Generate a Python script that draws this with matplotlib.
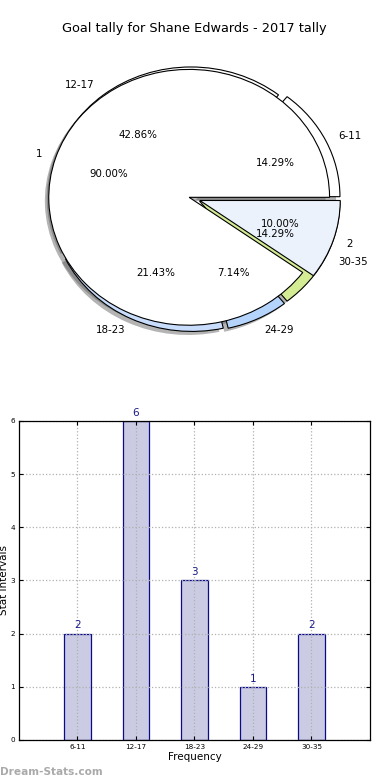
"""Goal tally for Shane Edwards - 2017: pie of intervals plus frequency bars."""

import matplotlib
matplotlib.use("Agg")
import matplotlib.pyplot as plt
import numpy as np


# Data
intervals = ["6-11", "12-17", "18-23", "24-29", "30-35"]
counts = [2, 6, 3, 1, 2]
interval_colors = ["#ffffff", "#ffffff", "#c8dcfc", "#b4d4fc", "#d4ec94"]

split_labels = ["1", "2"]
split_values = [90, 10]
split_colors = ["#ffffff", "#ecf2fc"]

plt.rcParams.update({
    "font.family": "DejaVu Sans",
    "font.size": 7.4,
})


def draw_pie(ax):
    wedge = dict(edgecolor="black", linewidth=0.8)
    shade = dict(facecolor="0.35", edgecolor="none", alpha=0.45)
    ax.pie(counts, labels=intervals, colors=interval_colors,
           explode=[0.04] * len(counts), autopct="%1.2f%%", shadow=shade,
           startangle=0, counterclock=True, wedgeprops=wedge,
           textprops=dict(fontsize=7.4))
    ax.pie(split_values, labels=split_labels, colors=split_colors,
           explode=[0.04] * len(split_values), autopct="%1.2f%%", shadow=shade,
           startangle=0, counterclock=True, wedgeprops=wedge,
           textprops=dict(fontsize=7.4))
    ax.set_aspect("auto")
    ax.set_xlim(-1.25, 1.25)
    ax.set_ylim(-1.25, 1.25)
    ax.set_axis_off()
    ax.set_title("Goal tally for Shane Edwards - 2017 tally", fontsize=9.3, pad=5)


def draw_bars(ax):
    x = np.arange(len(intervals))
    ax.bar(x, counts, width=0.45, color="#cbcce3", edgecolor="#0a0a8a",
           linewidth=0.9, zorder=1)
    for xi, c in zip(x, counts):
        ax.text(xi, c + 0.06, str(c), ha="center", va="bottom",
                fontsize=7.5, color="#1a1a8a")
    ax.set_xlim(-1, 5)
    ax.set_ylim(0, 6)
    ax.set_xticks(x)
    ax.set_xticklabels(intervals)
    ax.set_yticks(range(7))
    ax.tick_params(direction="in", top=True, right=True, length=3,
                   labelsize=5.2, pad=3)
    ax.grid(True, color="#b0b0b0", linestyle=":", linewidth=0.9)
    ax.set_axisbelow(False)
    ax.set_xlabel("Frequency", fontsize=7.5, labelpad=1)
    ax.set_ylabel("Stat Intervals", fontsize=7.5, labelpad=1)
    for s in ax.spines.values():
        s.set_linewidth(0.9)
        s.set_zorder(4)


fig = plt.figure(figsize=(3.9, 7.8), dpi=100)
ax_pie = fig.add_axes([0.0487, 0.54, 0.9, 0.41])
ax_bar = fig.add_axes([0.0487, 0.0513, 0.9, 0.409])
draw_pie(ax_pie)
draw_bars(ax_bar)
fig.text(0.0, 0.004, "Dream-Stats.com", fontsize=7.6, fontweight="bold",
         color="#aaaaaa", ha="left", va="bottom")
fig.savefig("out.png", dpi=100)
